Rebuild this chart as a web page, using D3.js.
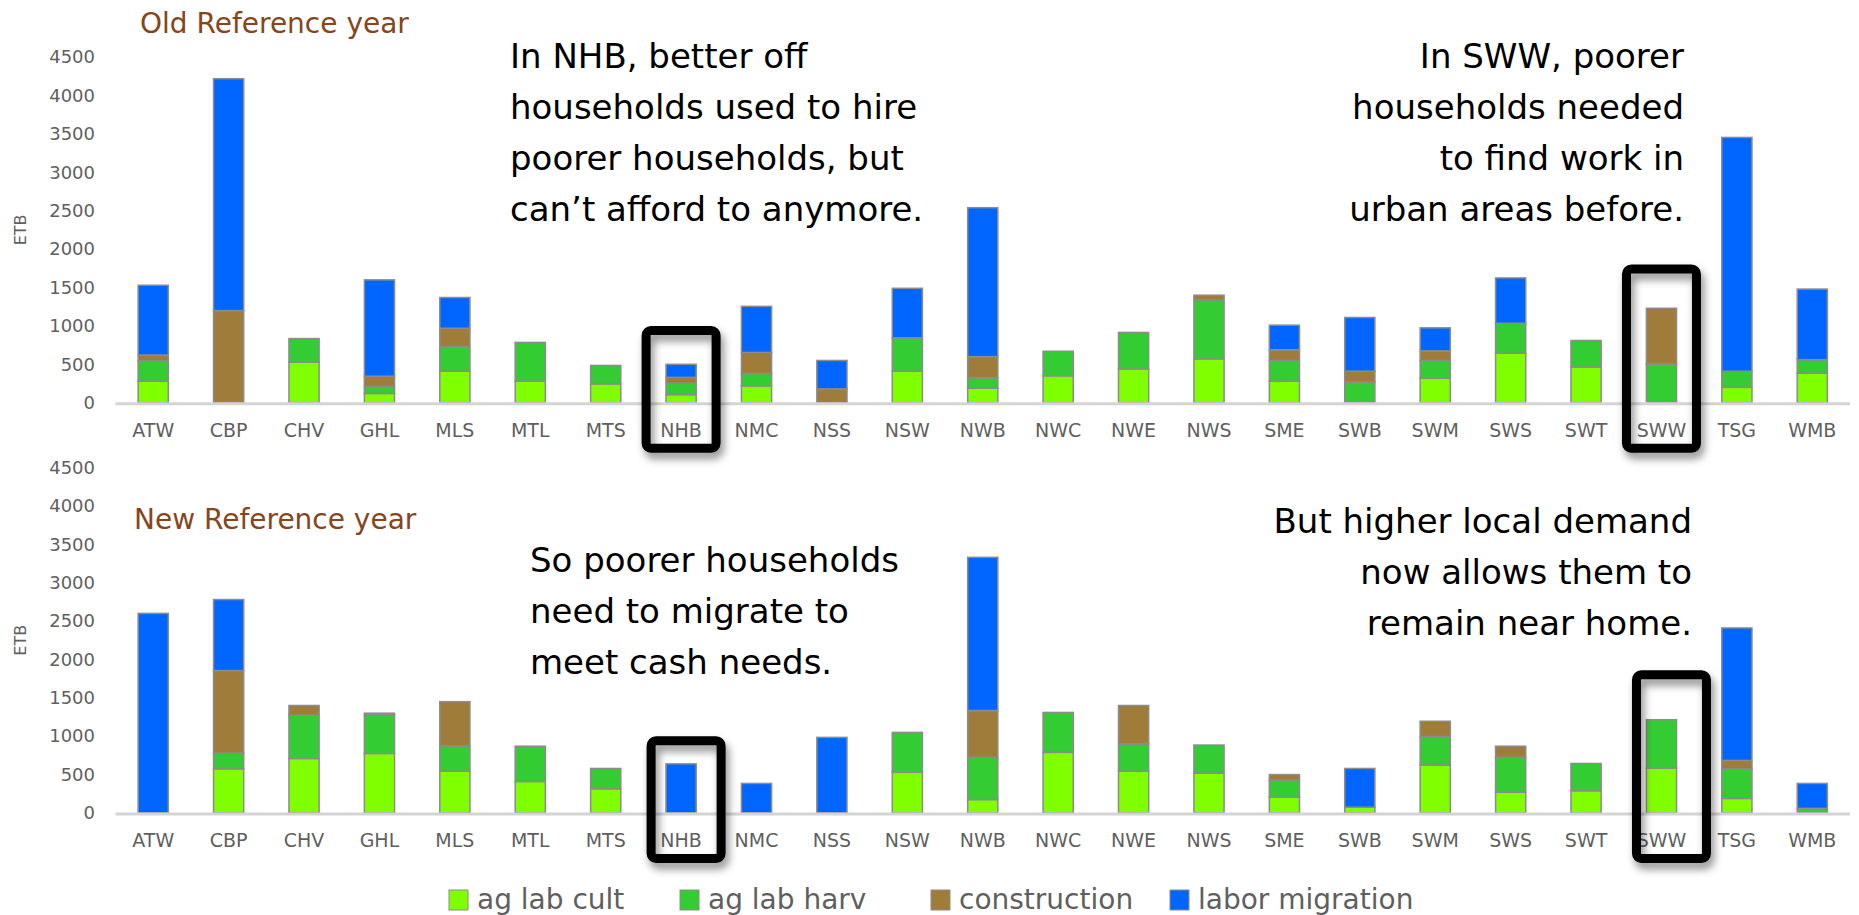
<!DOCTYPE html>
<html>
<head>
<meta charset="utf-8">
<script src="https://cdn.jsdelivr.net/npm/d3@7"></script>
<style>
  html, body { margin: 0; padding: 0; background: #ffffff; }
  svg { display: block; }
  text { font-family: "DejaVu Sans", "Noto Sans", sans-serif; }
</style>
</head>
<body>
<svg id="chart" width="1859" height="915"></svg>
<script>
// ---- data -----------------------------------------------------------------
const categories = ["ATW","CBP","CHV","GHL","MLS","MTL","MTS","NHB","NMC","NSS","NSW","NWB",
                    "NWC","NWE","NWS","SME","SWB","SWM","SWS","SWT","SWW","TSG","WMB"];

const seriesKeys   = ["ag lab cult", "ag lab harv", "construction", "labor migration"];
const seriesColors = ["#80ff00", "#33cc33", "#a07c3a", "#0066ff"];

// Old reference year (ETB)
const oldCult   = [280,   0, 530, 120, 410, 280, 245, 105, 220,   0, 410, 190, 350, 440, 570, 280,   0, 320, 645, 465,   0,  200, 385];
const oldHarv   = [265,   0, 305,  90, 320, 505, 240, 150, 160,   0, 435, 135, 320, 475, 770, 270, 270, 230, 390, 345, 505,  210, 175];
const oldConstr = [ 75,1200,   0, 135, 240,   0,   0,  75, 275, 180,   0, 275,   0,   0,  60, 140, 140, 125,   0,   0, 725,    0,   0];
const oldMigr   = [910,3020,   0,1255, 400,   0,   0, 170, 600, 370, 645,1940,   0,   0,   0, 320, 700, 300, 590,   0,   0, 3045, 920];

// New reference year (ETB)
const newCult   = [   0, 575, 710, 775, 545, 410, 315,   0,   0,   0, 530, 175, 790, 545, 520, 205,  75, 625, 270, 290, 585,  190,   0];
const newHarv   = [   0, 205, 565, 505, 330, 460, 265,   0,   0,   0, 520, 550, 520, 355, 365, 225,   0, 370, 455, 355, 630,  385,  60];
const newConstr = [   0,1075, 125,  20, 575,   0,   0,   0,   0,   0,   0, 610,   0, 500,   0,  70,   0, 200, 145,   0,   0,  110,   0];
const newMigr   = [2600, 925,   0,   0,   0,   0,   0, 640, 385, 985,   0,1995,   0,   0,   0,   0, 505,   0,   0,   0,   0, 1725, 325];

const yTicks = [0, 500, 1000, 1500, 2000, 2500, 3000, 3500, 4000, 4500];
const yMax = 4500;

const oldTitle = "Old Reference year";
const newTitle = "New Reference year";
const yLabel = "ETB";

const oldNotes = [
  ["In NHB, better off", "households used to hire", "poorer households, but", "can\u2019t afford to anymore."],
  ["In SWW, poorer", "households needed", "to find work in", "urban areas before."]
];
const newNotes = [
  ["So poorer households", "need to migrate to", "meet cash needs."],
  ["But higher local demand", "now allows them to", "remain near home."]
];

// highlighted categories and the value at which each frame's top edge sits
const oldHighlights = [{cat: "NHB", top: 1000}, {cat: "SWW", top: 1800}];
const newHighlights = [{cat: "NHB", top: 1000}, {cat: "SWW", top: 1860}];

// ---- drawing -------------------------------------------------------------
const svg = d3.select("#chart");
const labelGray = "#5f5f5f";

const defs = svg.append("defs");
const shadow = defs.append("filter").attr("id", "frameShadow")
  .attr("x", "-30%").attr("y", "-30%").attr("width", "160%").attr("height", "160%");
shadow.append("feDropShadow")
  .attr("dx", 3).attr("dy", 6).attr("stdDeviation", 4)
  .attr("flood-color", "#000").attr("flood-opacity", 0.45);

const x = d3.scaleBand()
  .domain(categories)
  .range([115.5, 1850])
  .paddingInner(0.6)
  .paddingOuter(0.3);

function buildRows(cult, harv, constr, migr) {
  return categories.map((c, i) => ({
    cat: c,
    "ag lab cult": cult[i],
    "ag lab harv": harv[i],
    "construction": constr[i],
    "labor migration": migr[i]
  }));
}

const stack = d3.stack().keys(seriesKeys);
const color = d3.scaleOrdinal().domain(seriesKeys).range(seriesColors);

function drawPanel(cfg) {
  const y = d3.scaleLinear().domain([0, yMax]).range([cfg.base, cfg.base - 345.5]);
  const g = svg.append("g");

  // y tick labels
  const yAxis = d3.axisLeft(y).tickValues(yTicks).tickFormat(d3.format("d")).tickSize(0).tickPadding(0);
  const ya = g.append("g").attr("transform", "translate(95,0)").call(yAxis);
  ya.select(".domain").remove();
  ya.selectAll("text")
    .attr("fill", labelGray)
    .style("font-family", "'DejaVu Sans', sans-serif")
    .style("font-size", "18px");

  // y axis title
  g.append("text")
    .attr("transform", `translate(26,${y(2250)}) rotate(-90)`)
    .attr("text-anchor", "middle")
    .attr("fill", labelGray)
    .style("font-size", "16px")
    .text(yLabel);

  // stacked bars
  const series = stack(buildRows(cfg.cult, cfg.harv, cfg.constr, cfg.migr));
  g.append("g").selectAll("g")
    .data(series)
    .join("g")
      .attr("fill", d => color(d.key))
    .selectAll("rect")
    .data(d => d.filter(s => s[1] - s[0] > 0))
    .join("rect")
      .attr("x", d => x(d.data.cat))
      .attr("width", x.bandwidth())
      .attr("y", d => y(d[1]))
      .attr("height", d => y(d[0]) - y(d[1]))
      .attr("stroke", "#8c8c8c")
      .attr("stroke-width", 1.5);

  // category axis
  g.append("line")
    .attr("x1", x.range()[0]).attr("x2", x.range()[1])
    .attr("y1", y(0) + 1).attr("y2", y(0) + 1)
    .attr("stroke", "#d4d4d4").attr("stroke-width", 3);

  const xAxis = d3.axisBottom(x).tickSize(0).tickPadding(21);
  const xa = g.append("g").attr("transform", `translate(0,${y(0)})`).call(xAxis);
  xa.select(".domain").remove();
  xa.selectAll("text")
    .attr("fill", labelGray)
    .style("font-family", "'DejaVu Sans', sans-serif")
    .style("font-size", "19px");

  // panel title
  g.append("text")
    .attr("x", cfg.titleX).attr("y", cfg.titleY)
    .attr("fill", "#86451a")
    .style("font-size", "28px")
    .text(cfg.title);

  // commentary
  cfg.notes.forEach((lines, k) => {
    const pos = cfg.notePos[k];
    const t = g.append("text")
      .attr("text-anchor", pos.anchor)
      .attr("fill", "#000")
      .style("font-size", "34px");
    lines.forEach((ln, j) => {
      t.append("tspan").attr("x", pos.x).attr("y", pos.y + j * 51).text(ln);
    });
  });

  // highlight frames
  cfg.highlights.forEach((h, k) => {
    const cx = x(h.cat) + x.bandwidth() / 2 + cfg.frameShift[k];
    const top = y(h.top);
    const bottom = y(0) + 50;
    g.append("rect")
      .attr("x", cx - 35).attr("width", 70)
      .attr("y", top + 4.5).attr("height", bottom - top - 9)
      .attr("rx", 5).attr("ry", 5)
      .attr("fill", "none")
      .attr("stroke", "#000")
      .attr("stroke-width", 9)
      .attr("filter", "url(#frameShadow)");
  });
}

drawPanel({
  base: 402.7,
  cult: oldCult, harv: oldHarv, constr: oldConstr, migr: oldMigr,
  title: oldTitle, titleX: 140, titleY: 33,
  notes: oldNotes,
  notePos: [{x: 510, y: 68, anchor: "start"}, {x: 1684, y: 68, anchor: "end"}],
  highlights: oldHighlights,
  frameShift: [0, 0]
});

drawPanel({
  base: 813,
  cult: newCult, harv: newHarv, constr: newConstr, migr: newMigr,
  title: newTitle, titleX: 134, titleY: 529,
  notes: newNotes,
  notePos: [{x: 530, y: 572, anchor: "start"}, {x: 1692, y: 533, anchor: "end"}],
  highlights: newHighlights,
  frameShift: [5, 10]
});

// legend
const legendX = [449, 680, 931, 1170];
const legend = svg.append("g");
const items = legend.selectAll("g").data(seriesKeys).join("g")
  .attr("transform", (d, i) => `translate(${legendX[i]},0)`);
items.append("rect")
  .attr("width", 19).attr("height", 20)
  .attr("y", 890)
  .attr("fill", d => color(d))
  .attr("stroke", "#8c8c8c").attr("stroke-width", 1);
items.append("text")
  .attr("x", 28).attr("y", 909)
  .attr("fill", labelGray)
  .style("font-size", "28px")
  .text(d => d);
</script>
</body>
</html>
